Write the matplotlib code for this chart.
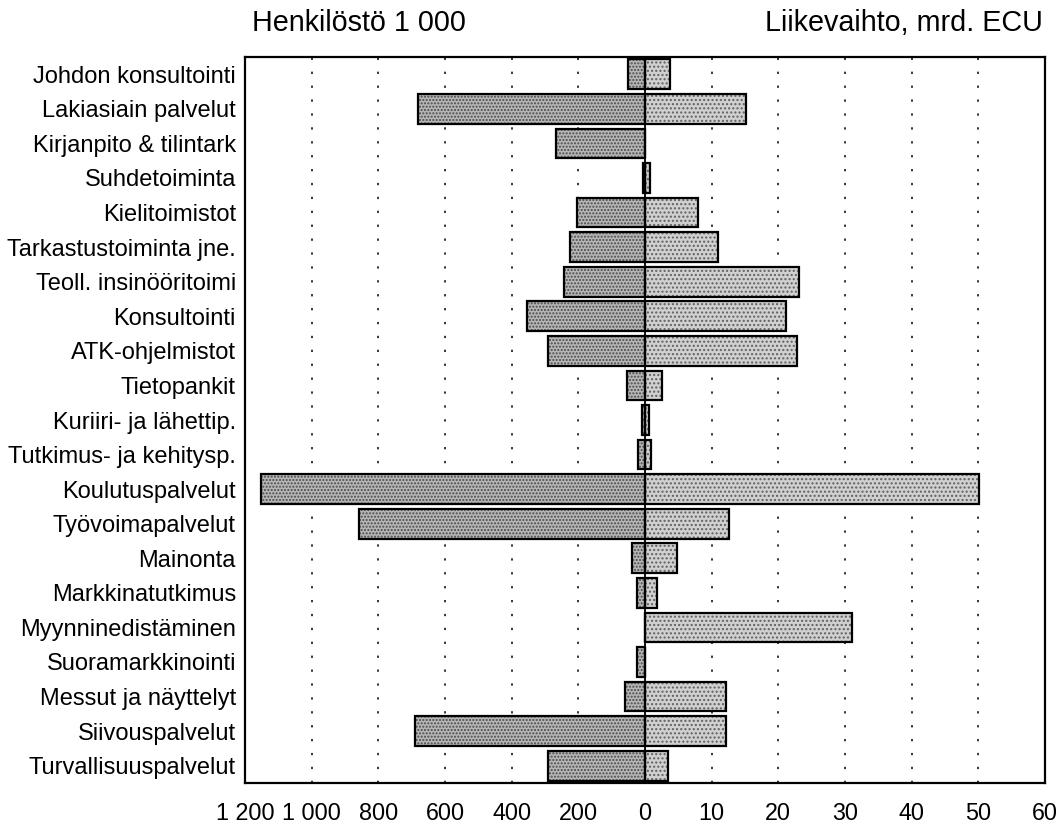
import matplotlib
matplotlib.use("Agg")
import matplotlib.pyplot as plt
import numpy as np

plt.rcParams['font.family'] = ['Liberation Sans', 'DejaVu Sans']

categories = [
    "Johdon konsultointi", "Lakiasiain palvelut", "Kirjanpito & tilintark",
    "Suhdetoiminta", "Kielitoimistot", "Tarkastustoiminta jne.",
    "Teoll. insinööritoimi", "Konsultointi", "ATK-ohjelmistot", "Tietopankit",
    "Kuriiri- ja lähettip.", "Tutkimus- ja kehitysp.", "Koulutuspalvelut",
    "Työvoimapalvelut", "Mainonta", "Markkinatutkimus", "Myynninedistäminen",
    "Suoramarkkinointi", "Messut ja näyttelyt", "Siivouspalvelut",
    "Turvallisuuspalvelut",
]
# Henkilöstö, 1 000 persons (left side)
staff = [50, 680, 268, 5, 203, 225, 243, 354, 291, 53,
         8, 21, 1152, 857, 38, 24, 0, 25, 60, 689, 290]
# Liikevaihto, mrd. ECU (right side)
revenue = [3.7, 15.1, 0.0, 0.7, 8.0, 11.0, 23.1, 21.1, 22.8, 2.5,
           0.6, 0.9, 50.1, 12.6, 4.8, 1.8, 31.1, 0.0, 12.2, 12.2, 3.5]

left_ticks = [1200, 1000, 800, 600, 400, 200]
right_ticks = [0, 10, 20, 30, 40, 50, 60]
tick_labels = ["1 200", "1 000", "800", "600", "400", "200",
               "0", "10", "20", "30", "40", "50", "60"]

STAFF_UNIT = 200.0   # staff per grid step
REV_UNIT = 10.0      # ECU per grid step

fig = plt.figure(figsize=(10.63, 8.23), dpi=100)
ax = fig.add_axes([245/1063, 1-783/823, 800/1063, 726/823])

y = np.arange(len(categories))
h = 0.86
plt.rcParams['hatch.linewidth'] = 1.0

ls = -np.array(staff) / STAFF_UNIT
rs = np.array(revenue) / REV_UNIT

# grid
tick_pos = [-v / STAFF_UNIT for v in left_ticks] + [v / REV_UNIT for v in right_ticks]
for t in tick_pos:
    if abs(t) < 1e-9 or abs(abs(t) - 6) < 1e-9:
        continue
    ax.axvline(t, color='black', lw=1.1, linestyle=(0, (1.5, 7.6)), zorder=1)

# left bars (darker stipple)
ax.barh(y, ls, height=h, color='#b6b6b6', hatch='.....', edgecolor='#4a4a4a',
        linewidth=0, zorder=2)
ax.barh(y, ls, height=h, facecolor='none', edgecolor='black', linewidth=1.6, zorder=3)
# right bars (lighter stipple)
ax.barh(y, rs, height=h, color='#d0d0d0', hatch='....', edgecolor='#606060',
        linewidth=0, zorder=2)
ax.barh(y, rs, height=h, facecolor='none', edgecolor='black', linewidth=1.6, zorder=3)

ax.axvline(0, color='black', lw=1.3, zorder=4)

ax.set_xlim(-6, 6)
ax.set_ylim(len(categories) - 0.5, -0.5)
ax.set_xticks(tick_pos)
ax.set_xticklabels(tick_labels, fontsize=16.8)
ax.set_yticks(y)
ax.set_yticklabels(categories, fontsize=17)
ax.tick_params(axis='x', length=0, pad=13.5)
ax.tick_params(axis='y', length=0, pad=6.5)
for s in ax.spines.values():
    s.set_linewidth(1.6)

fig.text(359/1063, 1-23/823, "Henkilöstö 1 000", fontsize=20.7, ha='center', va='center')
fig.text(1043/1063, 1-23/823, "Liikevaihto, mrd. ECU", fontsize=20.7, ha='right', va='center')

fig.savefig("out.png", dpi=100)
